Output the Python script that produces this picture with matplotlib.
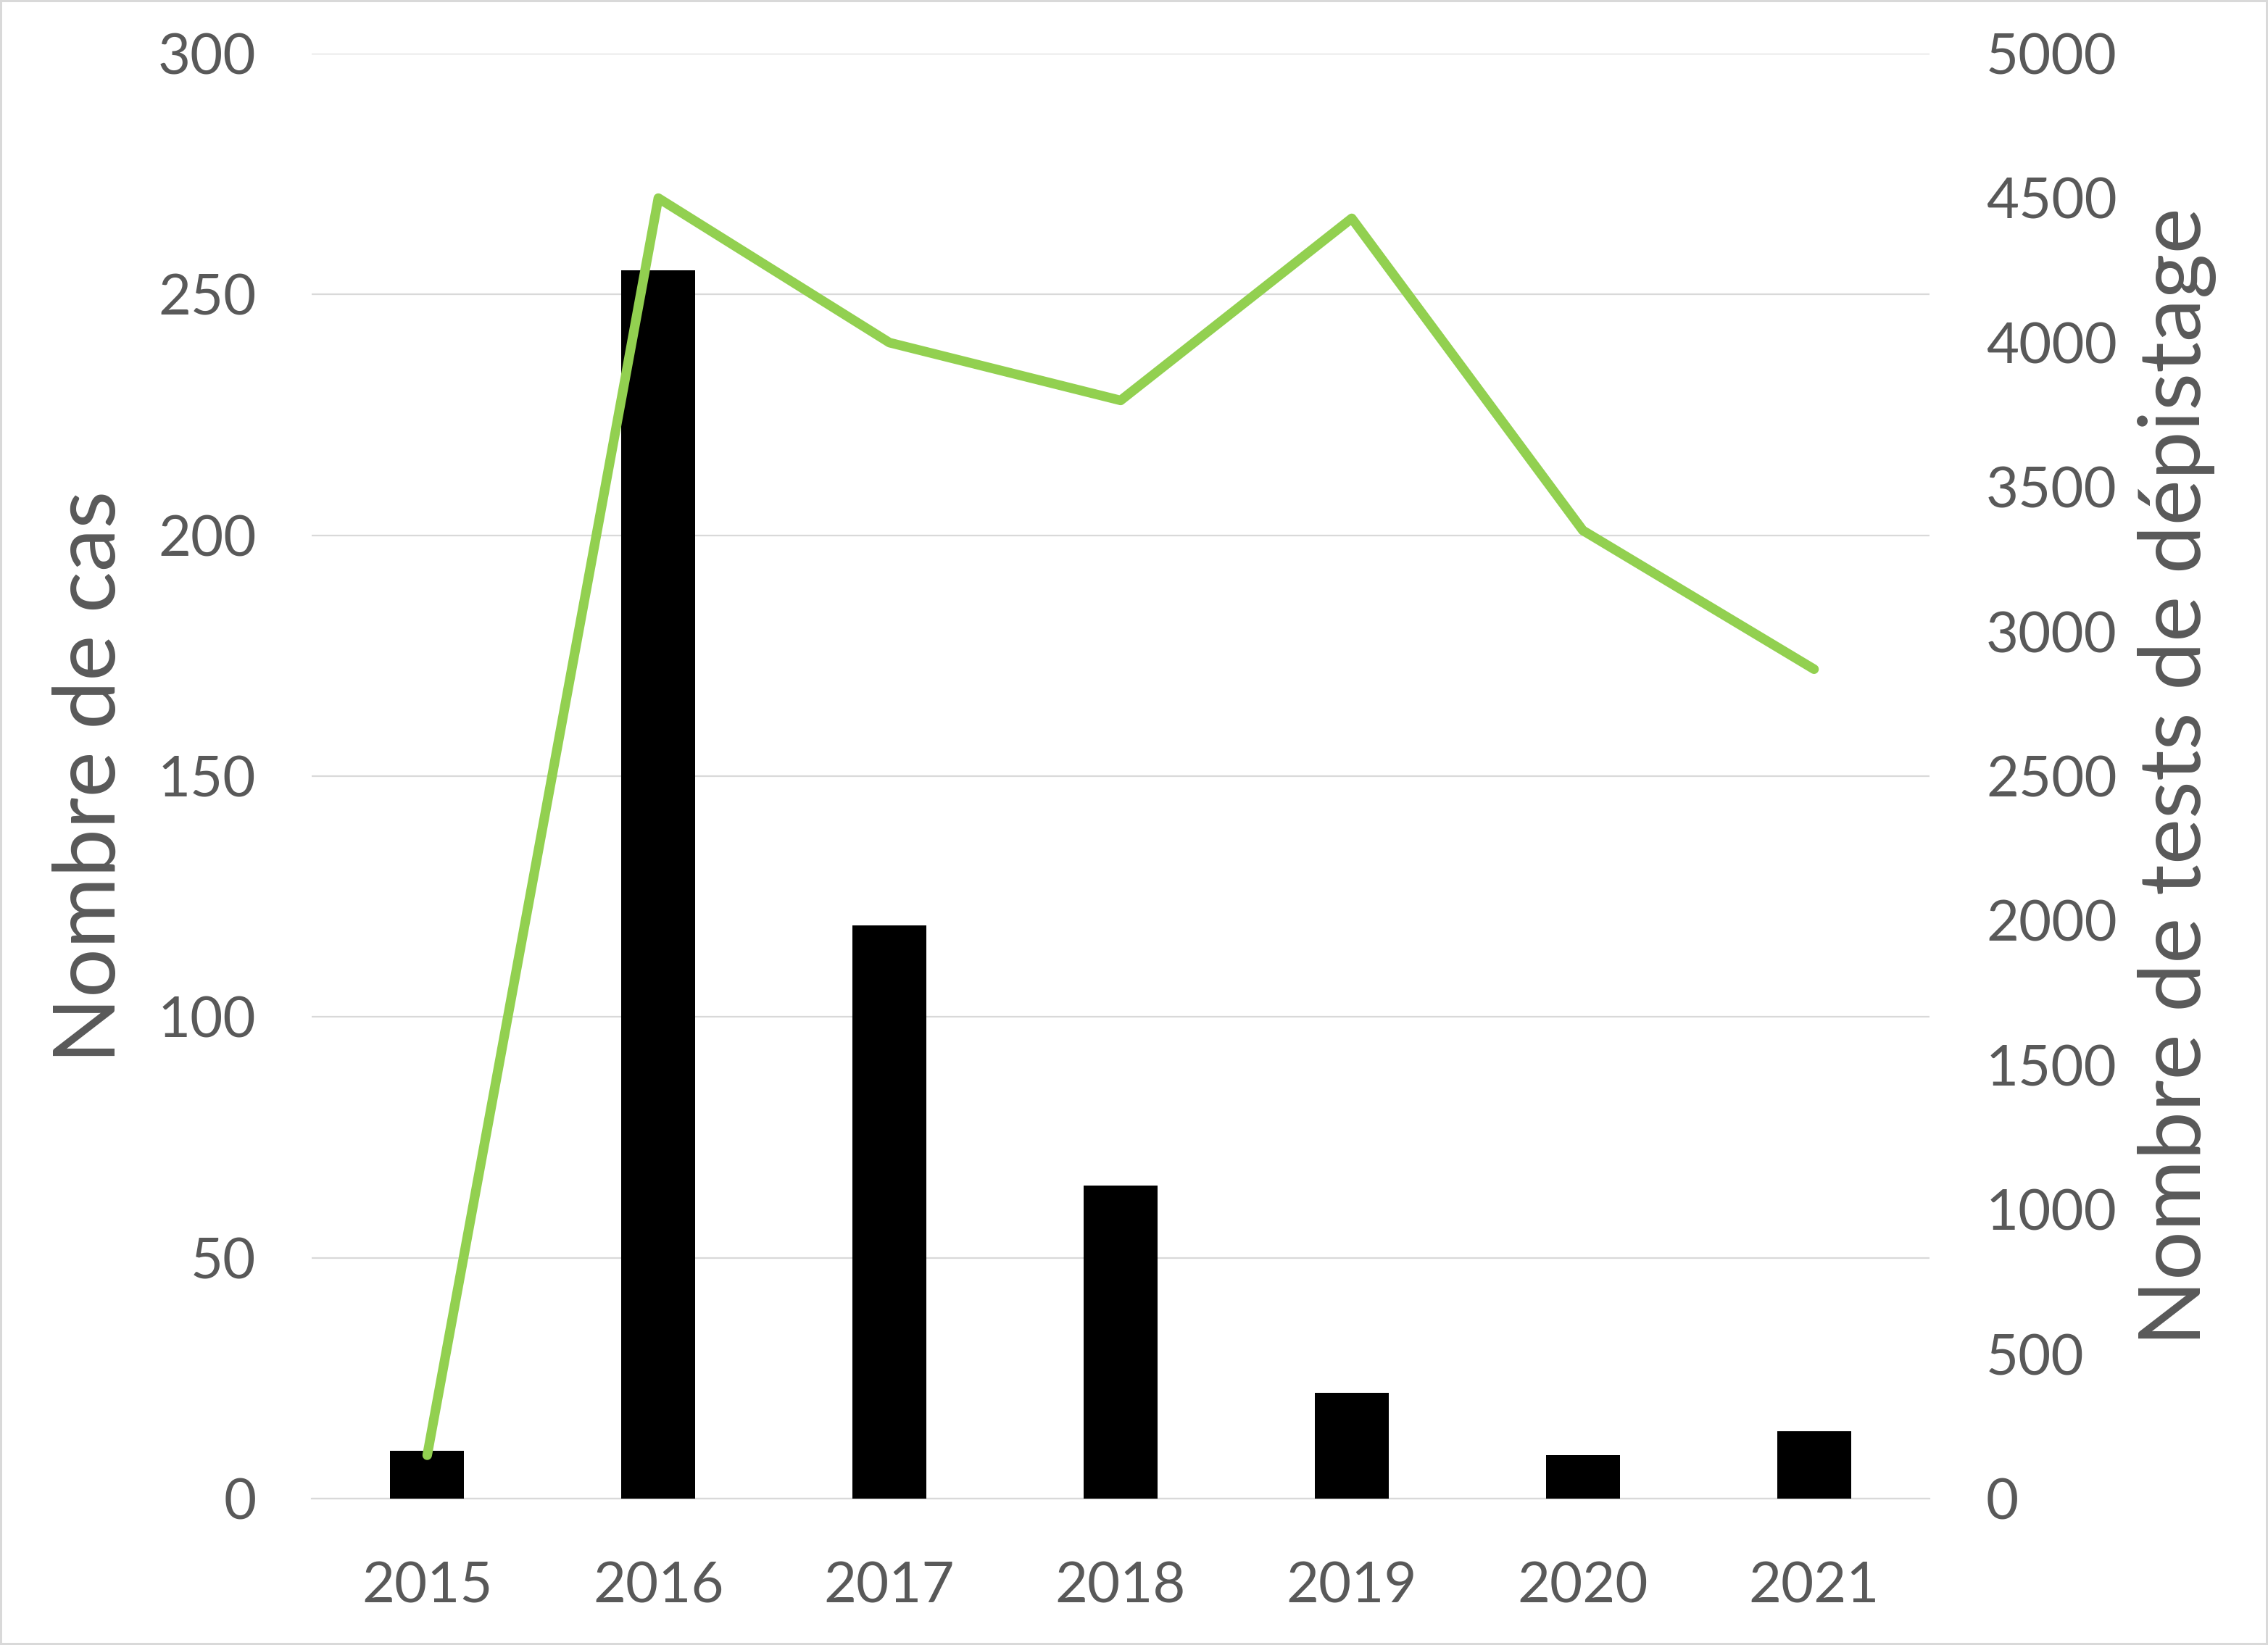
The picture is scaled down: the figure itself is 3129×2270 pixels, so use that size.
import matplotlib
matplotlib.use("Agg")
import matplotlib.pyplot as plt

# données
annees = ["2015", "2016", "2017", "2018", "2019", "2020", "2021"]
nb_cas = [10, 255, 119, 65, 22, 9, 14]
nb_tests = [150, 4500, 4000, 3800, 4430, 3350, 2870]

plt.rcParams['font.family'] = ['Lato', 'DejaVu Sans']
gris = '#595959'
grille = '#d9d9d9'

fig = plt.figure(figsize=(31.29, 22.70), dpi=100)
fig.patch.set_edgecolor(grille)
fig.patch.set_linewidth(3)

ax = fig.add_axes([0.1374, 0.0890, 0.7134, 0.8784])
x = range(len(annees))

ax.bar(x, nb_cas, width=0.32, color='black', zorder=3)
ax.set_ylim(0, 300)
ax.set_yticks(range(0, 301, 50))
ax.set_xlim(-0.5, len(annees) - 0.5)
ax.set_xticks(list(x))
ax.set_xticklabels(annees)
ax.grid(axis='y', color=grille, linewidth=1.6, zorder=0)
ax.set_axisbelow(True)
for s in ['top', 'right', 'left']:
    ax.spines[s].set_visible(False)
ax.spines['bottom'].set_color(grille)
ax.spines['bottom'].set_linewidth(1.6)
ax.tick_params(axis='both', length=0, labelsize=56, labelcolor=gris)
ax.tick_params(axis='y', pad=55)
ax.tick_params(axis='x', pad=62)

ax2 = ax.twinx()
ax2.plot(x, nb_tests, color='#92d050', linewidth=9.5,
         solid_capstyle='round', solid_joinstyle='round', zorder=4)
ax2.set_ylim(0, 5000)
ax2.set_yticks(range(0, 5001, 500))
for s in ['top', 'right', 'left', 'bottom']:
    ax2.spines[s].set_visible(False)
ax2.tick_params(axis='y', length=0, labelsize=56, labelcolor=gris, pad=56)

fig.text(0.040, 0.528, "Nombre de cas", rotation=90, ha='center', va='center',
         fontsize=86, color=gris)
fig.text(0.960, 0.528, "Nombre de tests de dépistage", rotation=90, ha='center',
         va='center', fontsize=86, color=gris)

fig.savefig("out.png", dpi=100)
